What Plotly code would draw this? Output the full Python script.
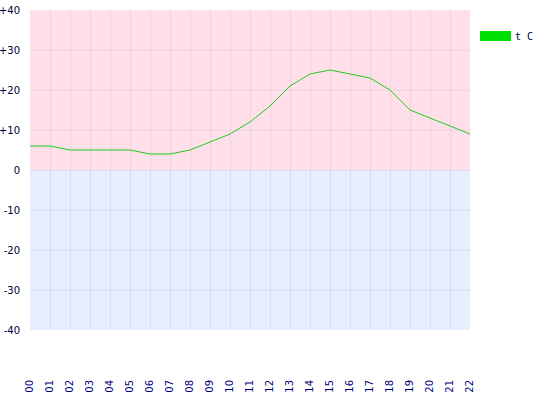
import plotly.graph_objects as go

hours = ["00", "01", "02", "03", "04", "05", "06", "07", "08", "09", "10", "11",
         "12", "13", "14", "15", "16", "17", "18", "19", "20", "21", "22"]
temps = [6, 6, 5, 5, 5, 5, 4, 4, 5, 7, 9, 12, 16, 21, 24, 25, 24, 23, 20, 15, 13, 11, 9]
ytick_vals = [40, 30, 20, 10, 0, -10, -20, -30, -40]
ytick_text = ["+40", "+30", "+20", "+10", "0", "-10", "-20", "-30", "-40"]
series_name = "t C"

font_family = "DejaVu Sans, Verdana, sans-serif"
grid = "rgba(140,140,160,0.16)"

fig = go.Figure()
fig.add_trace(go.Scatter(x=hours, y=temps, mode="lines", name=series_name,
                         line=dict(color="#1ECC1E", width=1), showlegend=False,
                         hoverinfo="x+y"))

# background bands
fig.add_shape(type="rect", xref="paper", yref="y", x0=0, x1=1, y0=0, y1=40,
              fillcolor="#FFE0EA", line_width=0, layer="below")
fig.add_shape(type="rect", xref="paper", yref="y", x0=0, x1=1, y0=-40, y1=0,
              fillcolor="#E6EEFF", line_width=0, layer="below")

# legend
fig.add_shape(type="rect", xref="paper", yref="paper",
              x0=(480 - 30) / 440, x1=(511 - 30) / 440,
              y0=(330 - 41) / 320, y1=(330 - 31) / 320,
              fillcolor="#00E000", line_width=0)
fig.add_annotation(xref="paper", yref="paper", x=(513 - 30) / 440, y=(330 - 36) / 320,
                   text=series_name, showarrow=False, xanchor="left", yanchor="middle",
                   font=dict(family="DejaVu Sans Mono, monospace", size=10, color="#000040"))

fig.update_layout(
    width=540, height=400,
    margin=dict(l=30, r=70, t=10, b=70, autoexpand=False),
    paper_bgcolor="white", plot_bgcolor="white",
    font=dict(family=font_family, size=10, color="#000040"),
    xaxis=dict(type="category", categoryorder="array", categoryarray=hours,
               range=[0, 22], showgrid=True, gridcolor=grid, gridwidth=1,
               zeroline=False, showline=False, ticks="", automargin=False,
               tickangle=-90, ticklabelstandoff=47,
               tickfont=dict(family=font_family, size=10, color="#000080")),
    yaxis=dict(range=[-40, 40], tickvals=ytick_vals, ticktext=ytick_text,
               showgrid=True, gridcolor=grid, gridwidth=1, zeroline=False,
               showline=False, ticks="", ticklabelstandoff=9, automargin=False,
               tickfont=dict(family=font_family, size=10, color="#000040")),
)

fig.write_html("out.html", config={"displayModeBar": False},
               post_script="document.body.style.margin='0';")
